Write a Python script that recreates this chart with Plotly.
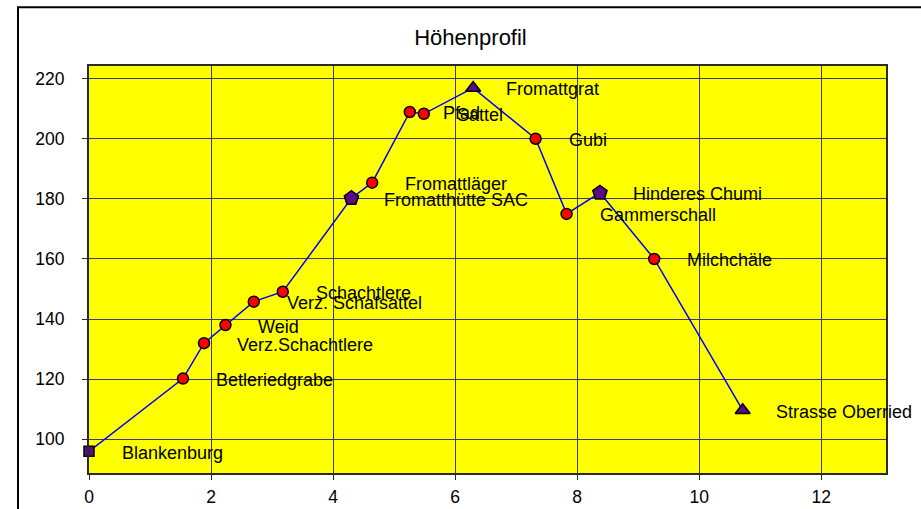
import plotly.graph_objects as go

# Data
distance_km = [0.0, 1.54, 1.885, 2.236, 2.70, 3.175, 4.30, 4.64, 5.257, 5.487,
               6.295, 7.318, 7.826, 8.372, 9.262, 10.711]
elevation = [96.0, 120.2, 132.0, 138.0, 145.8, 149.1, 180.2, 185.4, 208.9, 208.3,
             216.9, 200.0, 175.0, 182.0, 160.0, 109.7]
place_names = ["Blankenburg", "Betleriedgrabe", "Verz.Schachtlere", "Weid",
               "Verz. Schafsattel", "Schachtlere", "Fromatthütte SAC", "Fromattläger",
               "Pfad", "Sattel", "Fromattgrat", "Gubi", "Gammerschall",
               "Hinderes Chumi", "Milchchäle", "Strasse Oberried"]
point_kind = ["start", "wp", "wp", "wp", "wp", "wp", "hut", "wp", "wp", "wp",
              "peak", "wp", "wp", "hut", "wp", "peak"]
x_ticks = [0, 2, 4, 6, 8, 10, 12]
y_ticks = [100, 120, 140, 160, 180, 200, 220]

kind_style = {
    "start": dict(symbol="square", color="#5e0a86", size=10),
    "wp": dict(symbol="circle", color="#ff0000", size=11),
    "hut": dict(symbol="pentagon", color="#5e0a86", size=15),
    "peak": dict(symbol="triangle-up", color="#5e0a86", size=13),
}

W, H = 921, 509
ML, MR, MT, MB = 89, 35, 66, 36
font = "Arial, Liberation Sans, sans-serif"

fig = go.Figure()
fig.add_trace(go.Scatter(
    x=distance_km, y=elevation, mode="lines+markers", cliponaxis=False,
    line=dict(color="#0000ff", width=1.5),
    marker=dict(
        symbol=[kind_style[k]["symbol"] for k in point_kind],
        color=[kind_style[k]["color"] for k in point_kind],
        size=[kind_style[k]["size"] for k in point_kind],
        opacity=1,
        line=dict(color="#000000", width=1.5),
    ),
    hoverinfo="skip", showlegend=False,
))

for xv, yv, name in zip(distance_km, elevation, place_names):
    fig.add_annotation(x=xv, y=yv, text=name, showarrow=False,
                       xanchor="left", yanchor="middle", xshift=31, yshift=-1.5,
                       font=dict(family=font, size=18, color="#000000"))

pw = W - ML - MR
ph = H - MT - MB
fig.add_shape(type="rect", xref="paper", yref="paper",
              x0=(18 - ML) / pw, x1=1.3, y0=-0.3, y1=1 + (MT - 7.3) / ph,
              line=dict(color="#000000", width=2), fillcolor="rgba(0,0,0,0)")

axis_common = dict(showline=True, linecolor="#2a2a2a", linewidth=2, mirror=True,
                   showgrid=True, gridcolor="#3a3a5c", gridwidth=1,
                   ticks="outside", ticklen=5, tickcolor="#2a2a2a", tickwidth=1,
                   zeroline=False, automargin=False,
                   tickfont=dict(family=font, size=17.5, color="#000000"))

fig.update_layout(
    width=W, height=H, autosize=False,
    margin=dict(l=ML, r=MR, t=MT, b=MB, pad=0, autoexpand=False),
    paper_bgcolor="#ffffff", plot_bgcolor="#ffff00",
    title=dict(text="Höhenprofil", x=470.5 / W, xref="container", xanchor="center",
               y=1 - 37 / H, yref="container", yanchor="middle",
               font=dict(family=font, size=22, color="#000000")),
    xaxis=dict(range=[0, 13.06], tickvals=x_ticks, ticklabelstandoff=2, **axis_common),
    yaxis=dict(range=[88.8, 224.2], tickvals=y_ticks, ticklabelstandoff=14, **axis_common),
)

fig.write_html("out.html", config={"displayModeBar": False},
               post_script="document.body.style.margin='0';")
